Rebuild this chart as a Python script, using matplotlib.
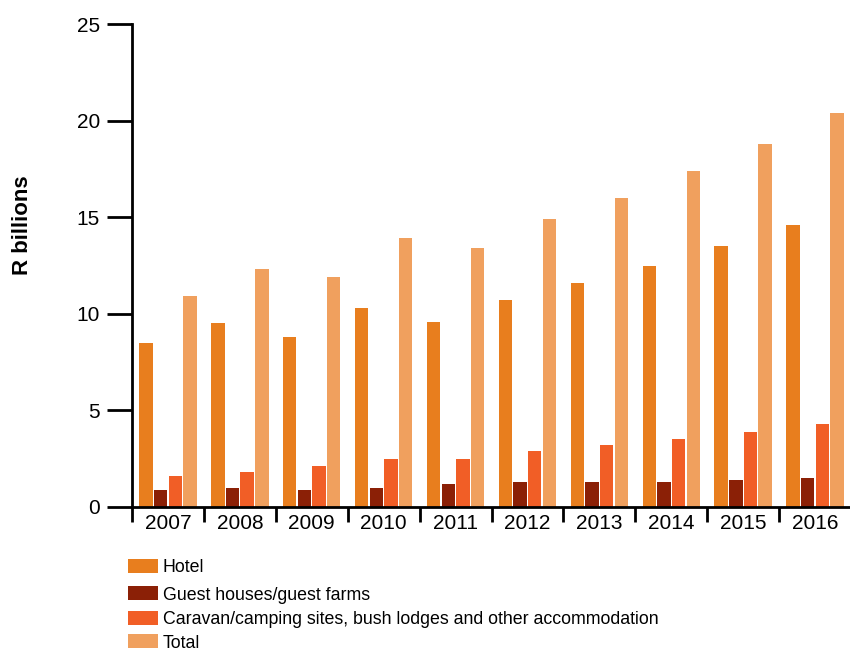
import matplotlib
matplotlib.use("Agg")
import matplotlib.pyplot as plt
import numpy as np
from matplotlib.patches import Rectangle

plt.rcParams['font.family'] = ['Liberation Sans', 'DejaVu Sans']

years = ['2007', '2008', '2009', '2010', '2011', '2012', '2013', '2014', '2015', '2016']
hotel = [8.5, 9.5, 8.8, 10.3, 9.6, 10.7, 11.6, 12.5, 13.5, 14.6]
guest = [0.9, 1.0, 0.9, 1.0, 1.2, 1.3, 1.3, 1.3, 1.4, 1.5]
caravan = [1.6, 1.8, 2.1, 2.5, 2.5, 2.9, 3.2, 3.5, 3.9, 4.3]
total = [10.9, 12.3, 11.9, 13.9, 13.4, 14.9, 16.0, 17.4, 18.8, 20.4]
series_names = ['Hotel', 'Guest houses/guest farms',
                'Caravan/camping sites, bush lodges and other accommodation', 'Total']
colors = ['#E87E1E', '#8B2006', '#F15E26', '#F0A05E']

W, H = 850, 650
fig = plt.figure(figsize=(W / 100, H / 100), dpi=100)
ax = fig.add_axes([132 / W, 1 - 507 / H, 719 / W, (507 - 24) / H])

x = np.arange(len(years))
pitch = 0.204
width = 0.186
for i, (vals, c) in enumerate(zip([hotel, guest, caravan, total], colors)):
    ax.bar(x + (i - 1.5) * pitch, vals, width=width, color=c, zorder=2)

ax.set_xlim(-0.5, len(years) - 0.5)
ax.set_ylim(0, 25)
ax.set_yticks([0, 5, 10, 15, 20, 25])
ax.set_xticks(x)
ax.set_xticklabels(years)
ax.set_xticks(np.arange(-0.5, len(years)), minor=True)
ax.tick_params(axis='x', which='major', length=0, labelsize=15, pad=5)
ax.tick_params(axis='x', which='minor', length=11, width=2, direction='out')
ax.tick_params(axis='y', length=18, width=2, labelsize=15, pad=5)
for s in ['top', 'right']:
    ax.spines[s].set_visible(False)
ax.spines['left'].set_linewidth(2)
ax.spines['bottom'].set_linewidth(2)
ax.spines['bottom'].set_zorder(3)

fig.text(23 / W, 1 - 225 / H, 'R billions', rotation=90, fontsize=16, fontweight='bold',
         ha='center', va='center')

# legend drawn manually
row_centers = [566, 593, 618, 641]
for name, c, yc in zip(series_names, colors, row_centers):
    fig.patches.append(Rectangle((128 / W, 1 - (yc + 7) / H), 30 / W, 14 / H,
                                 transform=fig.transFigure, facecolor=c, edgecolor='none'))
    fig.text(163 / W, 1 - (yc + 2) / H, name, fontsize=12.8, ha='left', va='center')

fig.savefig('out.png', dpi=100)
